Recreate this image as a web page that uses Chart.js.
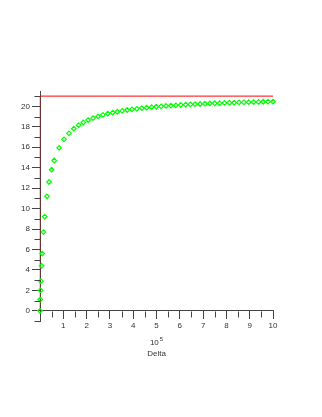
<!DOCTYPE html>
<html>
<head>
<meta charset="utf-8">
<script src="https://cdn.jsdelivr.net/npm/chart.js@4/dist/chart.umd.min.js"></script>
<style>
html,body{margin:0;padding:0;background:#fff;}
#wrap{width:322px;height:417px;position:relative;}
</style>
</head>
<body>
<div id="wrap"><canvas id="c"></canvas></div>
<script>
// ---- data ----
const deltaX = [0, 0.013, 0.026, 0.038, 0.07, 0.095, 0.15, 0.2, 0.3, 0.39, 0.5, 0.61,
  0.82, 1.03, 1.24, 1.45, 1.66, 1.86, 2.07, 2.28, 2.49, 2.70, 2.91, 3.12, 3.32, 3.53,
  3.74, 3.95, 4.16, 4.37, 4.58, 4.79, 4.99, 5.20, 5.41, 5.62, 5.83, 6.04, 6.25, 6.46,
  6.66, 6.87, 7.08, 7.29, 7.50, 7.71, 7.92, 8.13, 8.33, 8.54, 8.75, 8.96, 9.17, 9.38,
  9.58, 9.79, 10.0];
const rateY = [0, 1.1, 2.0, 2.9, 4.4, 5.6, 7.7, 9.2, 11.2, 12.6, 13.8, 14.7,
  15.94, 16.77, 17.36, 17.81, 18.16, 18.42, 18.66, 18.85, 19.01, 19.16, 19.28, 19.38, 19.47, 19.56,
  19.64, 19.70, 19.76, 19.82, 19.87, 19.92, 19.96, 20.00, 20.04, 20.07, 20.10, 20.13, 20.16, 20.19,
  20.21, 20.23, 20.26, 20.28, 20.30, 20.31, 20.33, 20.35, 20.36, 20.38, 20.39, 20.41, 20.42, 20.43,
  20.45, 20.46, 20.47];
const asymptoteY = 21;
const xTickLabels = ['1','2','3','4','5','6','7','8','9','10'];
const yTickLabels = ['0','2','4','6','8','10','12','14','16','18','20'];
const xRange = [0, 10];
const yRange = [-1, 21.5];
const xTitleBase = '10';
const xTitleExp = '5';
const xTitle = 'Delta';

// ---- chart ----
const FONT = '"Liberation Sans", Arial, sans-serif';
const AXIS = '#444444';
const points = deltaX.map((x, i) => ({x: x, y: rateY[i]}));

const minorTicks = {
  id: 'minorTicks',
  afterDraw(chart) {
    const ctx = chart.ctx;
    const xs = chart.scales.x, ys = chart.scales.y;
    const y0 = Math.round(ys.getPixelForValue(0)) + 0.5;
    const x0 = Math.round(xs.getPixelForValue(0)) + 0.5;
    ctx.save();
    ctx.strokeStyle = AXIS;
    ctx.lineWidth = 1;
    ctx.beginPath();
    xs.ticks.forEach(t => {
      if (!xTickLabels.includes(String(t.value)) && t.value !== 0) {
        const px = Math.round(xs.getPixelForValue(t.value)) + 0.5;
        ctx.moveTo(px, y0); ctx.lineTo(px, y0 + 6);
      }
    });
    ys.ticks.forEach(t => {
      if (!yTickLabels.includes(String(t.value))) {
        const py = Math.round(ys.getPixelForValue(t.value)) + 0.5;
        ctx.moveTo(x0, py); ctx.lineTo(x0 - 6, py);
      }
    });
    ctx.stroke();
    // axis title: 10^5 and Delta
    const cx = (chart.chartArea.left + chart.chartArea.right) / 2;
    ctx.fillStyle = '#333333';
    ctx.textBaseline = 'alphabetic';
    ctx.font = '8px ' + FONT;
    const wBase = ctx.measureText(xTitleBase).width;
    ctx.font = '6px ' + FONT;
    const wExp = ctx.measureText(xTitleExp).width;
    const start = cx - (wBase + wExp + 1) / 2;
    ctx.font = '8px ' + FONT;
    ctx.textAlign = 'left';
    ctx.fillText(xTitleBase, start, y0 + 33);
    ctx.font = '6px ' + FONT;
    ctx.fillText(xTitleExp, start + wBase + 1, y0 + 29);
    ctx.font = '8px ' + FONT;
    ctx.textAlign = 'center';
    ctx.fillText(xTitle, cx, y0 + 44);
    ctx.restore();
  }
};

new Chart(document.getElementById('c'), {
  type: 'scatter',
  data: {
    datasets: [
      {
        data: points,
        showLine: false,
        pointStyle: 'rectRot',
        pointRadius: 2.3,
        pointHoverRadius: 2.3,
        borderWidth: 1.2,
        borderColor: '#00ff00',
        backgroundColor: 'rgba(0,0,0,0)',
        clip: false,
        order: 0
      },
      {
        type: 'line',
        data: [{x: xRange[0], y: asymptoteY}, {x: xRange[1], y: asymptoteY}],
        borderColor: '#ff0000',
        borderWidth: 1,
        pointRadius: 0,
        fill: false,
        clip: false,
        order: 1
      },
      {
        type: 'line',
        data: [{x: 0, y: 0}, {x: 0, y: asymptoteY}],
        borderColor: 'rgba(255,0,0,0.45)',
        borderWidth: 1,
        pointRadius: 0,
        fill: false,
        clip: false,
        order: 1
      }
    ]
  },
  options: {
    responsive: true,
    maintainAspectRatio: false,
    animation: false,
    devicePixelRatio: 1,
    layout: {padding: {left: 0, right: 49, top: 91, bottom: 96}},
    plugins: {legend: {display: false}, tooltip: {enabled: false}},
    events: [],
    scales: {
      x: {
        type: 'linear',
        min: xRange[0], max: xRange[1],
        position: {y: 0},
        border: {display: true, color: AXIS, width: 1},
        grid: {
          display: true, drawOnChartArea: false, drawTicks: true, tickLength: 8,
          tickColor: c => (c.tick && xTickLabels.includes(String(c.tick.value))) || (c.tick && c.tick.value === 0) ? AXIS : 'rgba(0,0,0,0)'
        },
        ticks: {
          stepSize: 0.5, autoSkip: false, includeBounds: false, maxRotation: 0, padding: 2,
          color: '#333333', font: {family: FONT, size: 8},
          callback: v => xTickLabels.includes(String(v)) ? String(v) : ''
        }
      },
      y: {
        type: 'linear',
        min: yRange[0], max: yRange[1],
        position: 'left',
        afterFit: s => { s.width = 40; },
        border: {display: true, color: AXIS, width: 1},
        grid: {
          display: true, drawOnChartArea: false, drawTicks: true, tickLength: 8,
          tickColor: c => (c.tick && yTickLabels.includes(String(c.tick.value))) ? AXIS : 'rgba(0,0,0,0)'
        },
        ticks: {
          stepSize: 1, autoSkip: false, includeBounds: false, padding: 2,
          color: '#333333', font: {family: FONT, size: 8},
          callback: v => yTickLabels.includes(String(v)) ? String(v) : ''
        }
      }
    }
  },
  plugins: [minorTicks]
});
</script>
</body>
</html>
